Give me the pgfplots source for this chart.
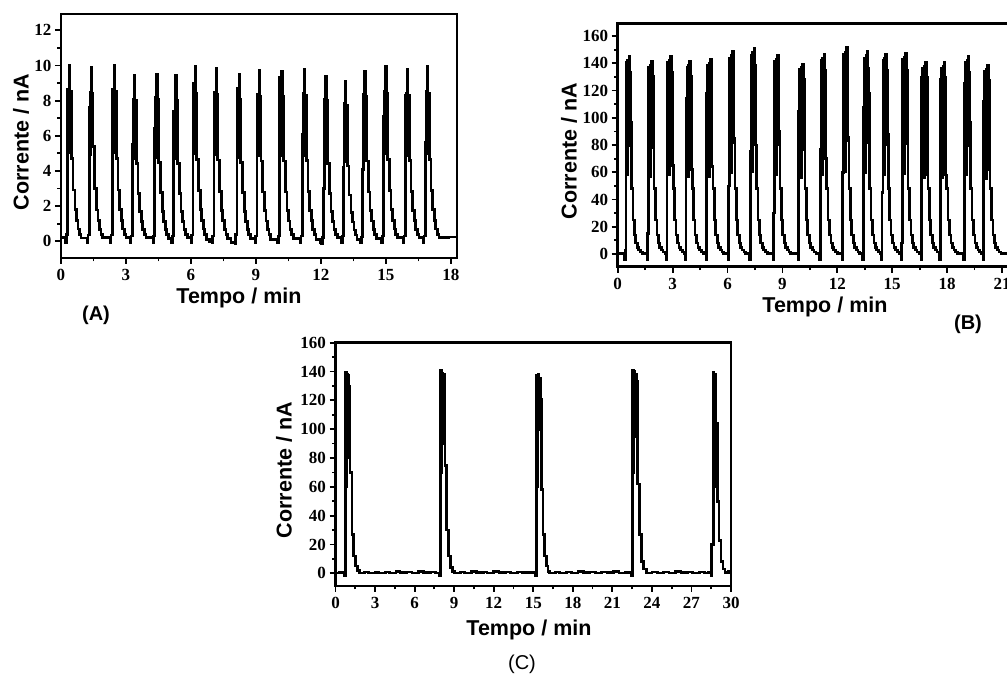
\documentclass[border=0pt]{standalone}
\usepackage{fontspec}
\setmainfont{Liberation Sans}
\newfontfamily\tickfont{Liberation Serif}
\usepackage{pgfplots}
\pgfplotsset{compat=1.18}
\newcommand\labfont{\fontsize{21.5}{24}\selectfont\bfseries}
\pgfplotsset{
  panel/.style={
    scale only axis,
    anchor=south west,
    axis line style={line width=2.8pt},
    tick style={line width=1.8pt, black},
    major tick length=6pt,
    minor tick length=3.5pt,
    tick align=outside,
    tick pos=left,
    minor x tick num=1, minor y tick num=1,
    tick label style={font=\tickfont\bfseries\fontsize{17}{19}\selectfont},
    xticklabel style={yshift=-2pt},
    /pgf/number format/assume math mode=true,
  },
  trace/.style={const plot, line width=2.7pt, black, mark=none, line join=miter},
}
\begin{document}
\begin{tikzpicture}
\useasboundingbox (0,0) rectangle (1007pt,677pt);
\clip (0,0) rectangle (1007pt,677pt);
% ---------------- Panel A
\begin{axis}[panel, at={(61pt,419pt)}, width=396pt, height=244pt,
  xmin=0, xmax=18.28, ymin=-0.95, ymax=12.93,
  xtick={0,3,...,18}, ytick={0,2,...,12}]
\addplot[trace] coordinates {
(0,0.2) (0.21,-0.1) (0.24,0.4) (0.30,8.63) (0.33,5.02) (0.36,8.63) (0.39,10.03) (0.42,5.52) (0.45,8.53) (0.48,4.71) (0.56,2.91) (0.64,1.81) (0.71,1.20) (0.78,0.70) (0.85,0.40) (0.93,0.18)
(1.21,-0.1) (1.24,0.35) (1.30,7.60) (1.33,4.94) (1.36,8.50) (1.39,9.88) (1.42,5.43) (1.45,8.40) (1.48,5.40) (1.56,3.00) (1.64,1.78) (1.71,1.19) (1.78,0.69) (1.85,0.40) (1.93,0.20)
(2.28,-0.1) (2.31,0.35) (2.37,8.63) (2.40,5.02) (2.43,8.63) (2.46,10.03) (2.49,5.52) (2.52,8.53) (2.55,4.71) (2.63,2.91) (2.71,1.81) (2.78,1.20) (2.85,0.70) (2.92,0.40) (3.00,0.20)
(3.20,-0.1) (3.23,0.30) (3.29,5.50) (3.32,8.10) (3.35,4.71) (3.38,9.42) (3.41,5.18) (3.44,8.01) (3.47,4.43) (3.55,2.73) (3.63,1.70) (3.70,1.13) (3.77,0.66) (3.84,0.38) (3.92,0.20)
(4.24,-0.1) (4.27,0.30) (4.33,6.40) (4.36,8.19) (4.39,4.76) (4.42,9.52) (4.45,5.24) (4.48,8.09) (4.51,4.47) (4.59,2.76) (4.67,1.71) (4.74,1.14) (4.81,0.67) (4.88,0.38) (4.96,0.15)
(5.11,-0.1) (5.14,0.30) (5.20,7.40) (5.23,4.71) (5.26,8.10) (5.29,9.42) (5.32,5.18) (5.35,8.01) (5.38,4.43) (5.46,2.73) (5.54,1.70) (5.61,1.13) (5.68,0.66) (5.75,0.38) (5.83,0.20)
(6.00,-0.1) (6.03,0.35) (6.09,9.00) (6.12,4.97) (6.15,8.54) (6.18,9.93) (6.21,5.46) (6.24,8.44) (6.27,4.67) (6.35,2.88) (6.43,1.79) (6.50,1.19) (6.57,0.70) (6.64,0.40) (6.72,0.10) (6.85,0.0)
(6.97,-0.1) (7.00,0.30) (7.06,5.60) (7.09,8.46) (7.12,4.92) (7.15,9.84) (7.18,5.41) (7.21,8.36) (7.24,4.62) (7.32,2.85) (7.40,1.77) (7.47,1.18) (7.54,0.69) (7.61,0.39) (7.69,0.15) (7.85,-0.05)
(8.03,-0.15) (8.06,0.40) (8.12,8.70) (8.15,4.76) (8.18,8.19) (8.21,9.52) (8.24,5.24) (8.27,8.09) (8.30,4.47) (8.38,2.76) (8.46,1.71) (8.53,1.14) (8.60,0.67) (8.67,0.38) (8.75,0.15)
(8.96,-0.1) (8.99,0.30) (9.05,6.10) (9.08,8.34) (9.11,4.85) (9.14,9.70) (9.17,5.34) (9.20,8.25) (9.23,4.56) (9.31,2.81) (9.39,1.75) (9.46,1.16) (9.53,0.68) (9.60,0.39) (9.68,0.10)
(10.00,-0.1) (10.03,0.30) (10.09,9.30) (10.12,4.85) (10.15,8.34) (10.18,9.69) (10.21,5.34) (10.24,8.25) (10.27,4.56) (10.35,2.81) (10.43,1.75) (10.50,1.16) (10.57,0.68) (10.64,0.39) (10.72,0.15)
(11.05,-0.1) (11.08,0.30) (11.14,6.10) (11.17,8.41) (11.20,4.89) (11.23,9.78) (11.26,5.38) (11.29,8.31) (11.32,4.60) (11.40,2.84) (11.48,1.76) (11.55,1.17) (11.62,0.68) (11.69,0.39) (11.77,0.10) (11.95,-0.05)
(12.03,-0.15) (12.06,0.20) (12.12,3.00) (12.15,8.08) (12.18,4.70) (12.21,9.40) (12.24,5.17) (12.27,7.99) (12.30,4.42) (12.38,2.73) (12.46,1.69) (12.53,1.13) (12.60,0.66) (12.67,0.38) (12.75,0.20)
(12.95,-0.1) (12.98,0.30) (13.04,4.20) (13.07,7.83) (13.10,4.55) (13.13,9.10) (13.16,5.01) (13.19,7.74) (13.22,4.28) (13.30,2.64) (13.38,1.64) (13.45,1.09) (13.52,0.64) (13.59,0.36) (13.67,0.10)
(13.84,-0.1) (13.87,0.25) (13.93,4.10) (13.96,8.34) (13.99,4.85) (14.02,9.69) (14.05,5.34) (14.08,8.25) (14.11,4.56) (14.19,2.81) (14.27,1.75) (14.34,1.16) (14.41,0.68) (14.48,0.39) (14.56,0.15)
(14.81,-0.1) (14.84,0.30) (14.90,7.10) (14.93,8.54) (14.96,4.97) (14.99,9.93) (15.02,5.46) (15.05,8.44) (15.08,4.67) (15.16,2.88) (15.24,1.79) (15.31,1.19) (15.38,0.70) (15.45,0.40) (15.53,0.20)
(15.81,-0.1) (15.84,0.30) (15.90,8.30) (15.93,4.89) (15.96,8.41) (15.99,9.78) (16.02,5.38) (16.05,8.31) (16.08,4.60) (16.16,2.84) (16.24,1.76) (16.31,1.17) (16.38,0.68) (16.45,0.39) (16.53,0.20)
(16.73,-0.1) (16.76,0.30) (16.82,5.60) (16.85,8.54) (16.88,4.97) (16.91,9.93) (16.94,5.46) (16.97,8.44) (17.00,4.67) (17.08,2.88) (17.16,1.79) (17.23,1.19) (17.30,0.70) (17.37,0.40) (17.45,0.20) (17.90,0.25) (18.28,0.25)
};
\end{axis}
% ---------------- Panel B
\begin{axis}[panel, at={(617.7pt,410.3pt)}, width=402.6pt, height=243.4pt,
  xmin=0, xmax=22, ymin=-9.35, ymax=169.4,
  xtick={0,3,...,21}, ytick={0,20,...,160}]
\addplot[trace] coordinates {
(0,0.3) (0.37,-4) (0.41,3) (0.46,140.5) (0.51,57.9) (0.55,141.9) (0.59,79.6) (0.62,144.8) (0.67,133.2) (0.71,97) (0.76,48) (0.83,25) (0.91,14) (0.99,8) (1.07,5) (1.15,3) (1.25,1.5) (1.35,0.3)
(1.60,-4) (1.64,15) (1.69,137.4) (1.74,56.6) (1.78,138.8) (1.82,77.9) (1.85,141.6) (1.90,130.3) (1.94,92) (1.99,48) (2.06,25) (2.14,14) (2.22,8) (2.30,5) (2.38,3) (2.48,1.5) (2.58,0.3)
(2.65,-4) (2.69,120) (2.74,140.5) (2.79,57.9) (2.83,141.9) (2.87,79.6) (2.90,144.8) (2.95,133.2) (2.99,65) (3.04,48) (3.11,25) (3.19,14) (3.27,8) (3.35,5) (3.43,3) (3.53,1.5) (3.63,0.3)
(3.69,-4) (3.73,114) (3.78,137.4) (3.83,56.6) (3.87,138.8) (3.91,77.9) (3.94,141.6) (3.99,130.3) (4.03,62) (4.08,48) (4.15,25) (4.23,14) (4.31,8) (4.39,5) (4.47,3) (4.57,1.5) (4.67,0.3)
(4.82,-4) (4.86,118) (4.91,138.5) (4.96,57.1) (5.00,139.9) (5.04,78.5) (5.07,142.8) (5.12,131.4) (5.16,64) (5.21,48) (5.28,25) (5.36,14) (5.44,8) (5.52,5) (5.60,3) (5.70,1.5) (5.80,0.3)
(6.02,-4) (6.06,50) (6.11,144.0) (6.16,59.4) (6.20,145.5) (6.24,81.7) (6.27,148.5) (6.32,136.6) (6.36,85) (6.41,48) (6.48,25) (6.56,14) (6.64,8) (6.72,5) (6.80,3) (6.90,1.5) (7.00,0.3)
(7.20,-4) (7.24,75) (7.29,146.2) (7.34,60.3) (7.38,147.7) (7.42,82.9) (7.45,150.7) (7.50,138.6) (7.54,80) (7.59,48) (7.66,25) (7.74,14) (7.82,8) (7.90,5) (7.98,3) (8.08,1.5) (8.18,0.3)
(8.48,-4) (8.52,30) (8.57,141.6) (8.62,58.4) (8.66,143.1) (8.70,80.3) (8.73,146.0) (8.78,134.3) (8.82,90) (8.87,48) (8.94,25) (9.02,14) (9.10,8) (9.18,5) (9.26,3) (9.36,1.5) (9.46,0.3)
(9.85,-4) (9.89,105) (9.94,135.4) (9.99,55.8) (10.03,136.8) (10.07,76.8) (10.10,139.6) (10.15,128.4) (10.19,115) (10.24,48) (10.31,25) (10.39,14) (10.47,8) (10.55,5) (10.63,3) (10.73,1.5) (10.83,0.3)
(11.03,-4) (11.07,77) (11.12,142.1) (11.17,58.6) (11.21,143.6) (11.25,80.6) (11.28,146.5) (11.33,134.8) (11.37,70) (11.42,48) (11.49,25) (11.57,14) (11.65,8) (11.73,5) (11.81,3) (11.91,1.5) (12.01,0.3)
(12.25,-4) (12.29,60) (12.34,146.9) (12.39,60.6) (12.43,148.4) (12.47,83.3) (12.50,151.4) (12.55,139.3) (12.59,86) (12.64,48) (12.71,25) (12.79,14) (12.87,8) (12.95,5) (13.03,3) (13.13,1.5) (13.23,0.3)
(13.38,-4) (13.42,108) (13.47,144.0) (13.52,59.4) (13.56,145.5) (13.60,81.7) (13.63,148.5) (13.68,136.6) (13.72,118) (13.77,48) (13.84,25) (13.92,14) (14.00,8) (14.08,5) (14.16,3) (14.26,1.5) (14.36,0.3)
(14.40,-4) (14.44,45) (14.49,142.1) (14.54,58.6) (14.58,143.6) (14.62,80.6) (14.65,146.5) (14.70,134.8) (14.74,88) (14.79,48) (14.86,25) (14.94,14) (15.02,8) (15.10,5) (15.18,3) (15.28,1.5) (15.38,0.3)
(15.48,-4) (15.52,8) (15.57,142.6) (15.62,58.8) (15.66,144.1) (15.70,80.9) (15.73,147.0) (15.78,135.2) (15.82,97) (15.87,48) (15.94,25) (16.02,14) (16.10,8) (16.18,5) (16.26,3) (16.36,1.5) (16.46,0.3)
(16.57,-4) (16.61,130) (16.66,136.6) (16.71,56.3) (16.75,138.0) (16.79,77.4) (16.82,140.8) (16.87,129.5) (16.91,58) (16.96,48) (17.03,25) (17.11,14) (17.19,8) (17.27,5) (17.35,3) (17.45,1.5) (17.55,0.3)
(17.59,-4) (17.63,128) (17.68,136.6) (17.73,56.3) (17.77,138.0) (17.81,77.4) (17.84,140.8) (17.89,129.5) (17.93,58) (17.98,48) (18.05,25) (18.13,14) (18.21,8) (18.29,5) (18.37,3) (18.47,1.5) (18.57,0.3)
(18.90,-4) (18.94,125) (18.99,140.5) (19.04,57.9) (19.08,141.9) (19.12,79.6) (19.15,144.8) (19.20,133.2) (19.24,97) (19.29,48) (19.36,25) (19.44,14) (19.52,8) (19.60,5) (19.68,3) (19.78,1.5) (19.88,0.3)
(19.96,-4) (20.00,112) (20.05,134.2) (20.10,55.4) (20.14,135.6) (20.18,76.1) (20.21,138.4) (20.26,127.3) (20.30,62) (20.35,48) (20.42,25) (20.50,14) (20.58,8) (20.66,5) (20.74,3) (20.84,1.5) (20.94,0.3) (22,0.3)
};
\end{axis}
% ---------------- Panel C
\begin{axis}[panel, at={(335.5pt,91pt)}, width=395.5pt, height=243.3pt,
  xmin=0, xmax=30, ymin=-8.8, ymax=160,
  xtick={0,3,...,30}, ytick={0,20,...,160}]
\addplot[trace] coordinates {
(0,0.3) (0.30,0.6) (0.55,0.2)
(0.70,-1.5) (0.76,139.6) (0.82,60) (0.86,138) (0.92,80) (0.96,137) (1.03,130) (1.11,70) (1.24,27) (1.39,12) (1.52,5) (1.65,2) (1.82,0.3)
(2.2,1.0) (2.5,0.2) (3.0,0.8) (3.3,0.2) (3.8,1.0) (4.1,0.3) (4.6,1.2) (4.9,0.4) (5.4,0.9) (5.8,0.3) (6.3,1.1) (6.7,0.5) (7.2,1.0) (7.6,0.3)
(7.91,-1.5) (7.97,141) (8.03,70) (8.08,139) (8.14,90) (8.19,138) (8.26,120) (8.30,75) (8.40,30) (8.56,12) (8.71,4) (8.86,1.5) (9.04,0.2)
(9.5,0.9) (9.8,0.2) (10.3,1.2) (10.7,0.4) (11.2,1.0) (11.5,0.3) (12.0,1.1) (12.4,0.5) (12.9,0.9) (13.3,0.3) (13.8,1.0) (14.2,0.4) (14.7,0.8) (15.0,0.2)
(15.18,-1.5) (15.24,137) (15.30,60) (15.35,138) (15.41,100) (15.46,135) (15.54,121) (15.62,58) (15.74,27) (15.87,12) (16.00,5) (16.12,1.5) (16.25,0.2)
(16.7,1.0) (17.0,0.3) (17.5,0.9) (17.9,0.2) (18.4,1.1) (18.8,0.4) (19.3,1.0) (19.7,0.3) (20.2,0.9) (20.6,0.4) (21.1,1.1) (21.5,0.3) (22.0,0.8) (22.3,0.2)
(22.47,-1.5) (22.53,141) (22.59,70) (22.64,140) (22.70,95) (22.75,138) (22.84,133) (22.92,62) (23.05,27) (23.20,8) (23.35,3) (23.60,0.3)
(24.0,1.0) (24.4,0.3) (24.9,0.9) (25.3,0.2) (25.8,1.1) (26.2,0.4) (26.7,1.0) (27.1,0.3) (27.6,0.9) (28.0,0.3) (28.3,0.6)
(28.48,-1.5) (28.53,20) (28.66,139.6) (28.72,60) (28.77,138) (28.83,90) (28.88,104) (28.96,50) (29.10,23) (29.25,8) (29.40,3) (29.55,0.5) (29.80,1.5) (30,1.5)
};
\end{axis}
% ---------------- labels
\node[font=\labfont] at (239pt,379pt) {Tempo / min};
\node[font=\labfont, rotate=90] at (21pt,535pt) {Corrente / nA};
\node[font=\fontsize{20}{22}\selectfont\bfseries] at (96pt,362pt) {(A)};
\node[font=\labfont] at (825pt,370pt) {Tempo / min};
\node[font=\labfont, rotate=90] at (569pt,526pt) {Corrente / nA};
\node[font=\fontsize{20}{22}\selectfont\bfseries] at (968pt,353pt) {(B)};
\node[font=\labfont] at (529pt,47pt) {Tempo / min};
\node[font=\labfont, rotate=90] at (284pt,207pt) {Corrente / nA};
\node[font=\fontsize{20}{22}\selectfont] at (522pt,13pt) {(C)};
\end{tikzpicture}
\end{document}
